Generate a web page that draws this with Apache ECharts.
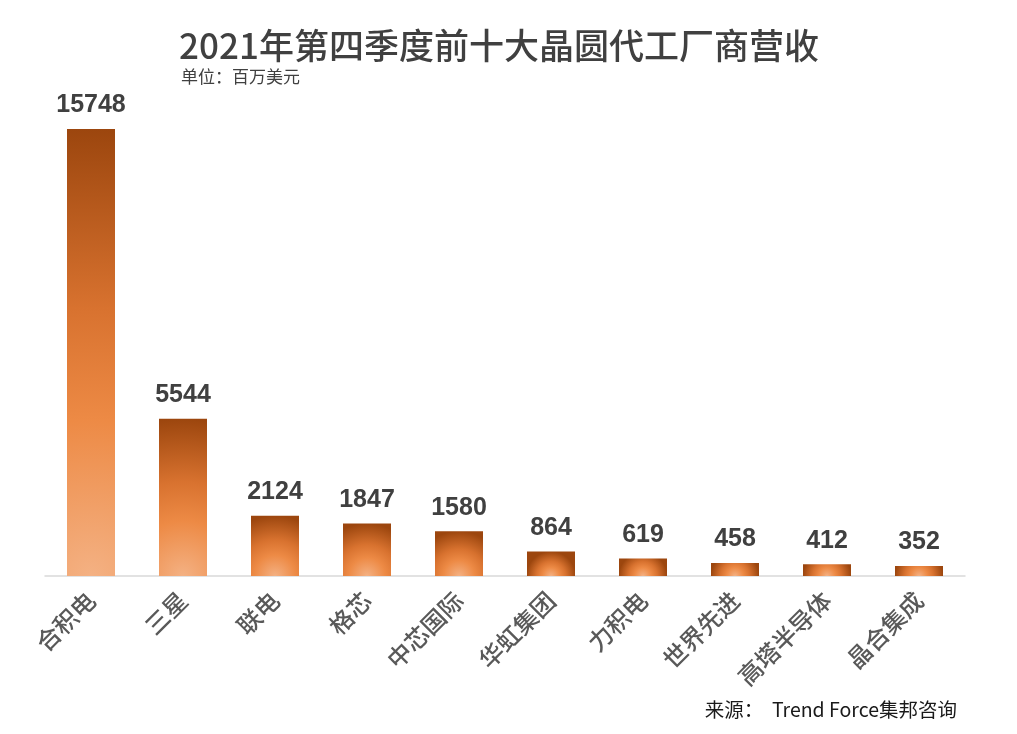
<!DOCTYPE html>
<html>
<head>
<meta charset="utf-8">
<script src="https://cdn.jsdelivr.net/npm/echarts@6/dist/echarts.min.js"></script>
<style>
  html, body { margin: 0; padding: 0; background: #fff; }
  #main { width: 1017px; height: 734px; }
</style>
</head>
<body>
<div id="main"></div>
<script>
    var company_list = ['合积电', '三星', '联电', '格芯', '中芯国际', '华虹集团', '力积电', '世界先进', '高塔半导体', '晶合集成'];
    var revenue_list = [15748, 5544, 2124, 1847, 1580, 864, 619, 458, 412, 352];

    var BAR_W = 48;
    var myChart = echarts.init(document.getElementById('main'));

    // excel-like path gradient: light at bottom centre, dark towards edges
    function bar_gradient(h) {
        var reach = Math.max(h, BAR_W / 2);
        var r = reach / Math.min(BAR_W, Math.max(h, 1));
        return {
            type: 'radial', x: 0.5, y: 1, r: r,
            colorStops: [
                {offset: 0, color: '#F4B183'},
                {offset: 0.35, color: '#ED8A45'},
                {offset: 0.6, color: '#D8722F'},
                {offset: 1, color: '#9C460E'}
            ]
        };
    }

    var option = {
        backgroundColor: '#ffffff',
        title: [
            {
                text: '2021年第四季度前十大晶圆代工厂商营收',
                left: 494, top: 23, textAlign: 'center',
                textStyle: {fontFamily: 'Noto Sans CJK SC', fontSize: 35, fontWeight: 500, color: '#404040'}
            },
            {
                text: '单位：百万美元',
                left: 176, top: 63,
                textStyle: {fontFamily: 'Noto Sans CJK SC', fontSize: 17, fontWeight: 'normal', color: '#404040'}
            },
            {
                text: '来源：  Trend Force集邦咨询',
                right: 55, top: 695,
                textStyle: {fontFamily: 'Noto Sans CJK SC', fontSize: 19.5, fontWeight: 'normal', color: '#1a1a1a'}
            }
        ],
        grid: {left: 45, right: 52, top: 129, bottom: 158},
        xAxis: {
            type: 'category',
            data: company_list,
            axisLine: {lineStyle: {color: '#d9d9d9', width: 1.5}},
            axisTick: {show: false},
            axisLabel: {
                rotate: 45, margin: 20, interval: 0,
                fontFamily: 'Noto Sans CJK SC', fontSize: 24, fontWeight: 500, color: '#595959'
            }
        },
        yAxis: {type: 'value', min: 0, max: 'dataMax', show: false, splitLine: {show: false}},
        series: [{
            type: 'bar',
            barWidth: BAR_W,
            data: revenue_list,
            itemStyle: {color: '#ED7D31'},
            label: {
                show: true, position: 'top', distance: 11,
                fontFamily: 'Liberation Sans', fontSize: 25, fontWeight: 'bold', color: '#404040'
            }
        }]
    };
    myChart.setOption(option);

    var items = revenue_list.map(function (v, i) {
        var top = myChart.convertToPixel({seriesIndex: 0}, [i, v]);
        var base = myChart.convertToPixel({seriesIndex: 0}, [i, 0]);
        return {value: v, itemStyle: {color: bar_gradient(base[1] - top[1])}};
    });
    myChart.setOption({series: [{data: items}]});
</script>
</body>
</html>
